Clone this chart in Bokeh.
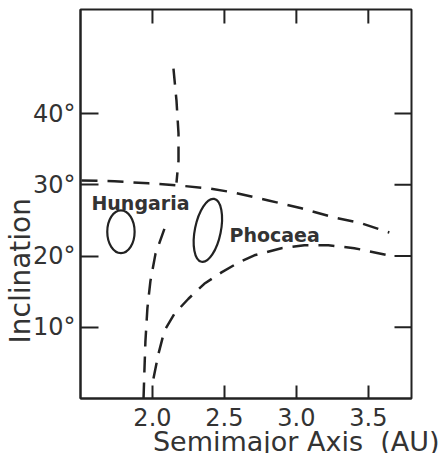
import math
from bokeh.plotting import figure
from bokeh.models import LinearAxis, FixedTicker, Label, Range1d, Title
from bokeh.embed import file_html
from bokeh.resources import INLINE

# ---- data ----
x_ticks = [2.0, 2.5, 3.0, 3.5]
x_tick_labels = ["2.0", "2.5", "3.0", "3.5"]
y_ticks = [10, 20, 30, 40]
y_tick_labels = ["10°", "20°", "30°", "40°"]

upper_a = [1.507, 1.736, 1.972, 2.181, 2.389, 2.569, 2.806, 3.035, 3.264, 3.451, 3.646]
upper_i = [30.6, 30.5, 30.2, 29.9, 29.5, 28.9, 27.8, 26.7, 25.4, 24.6, 23.3]

lower_a = [2.007, 2.042, 2.083, 2.153, 2.25, 2.36, 2.48, 2.60, 2.708, 2.896, 3.056, 3.222, 3.403, 3.639]
lower_i = [2.8, 6.3, 9.5, 11.9, 14.0, 16.1, 17.7, 19.1, 20.1, 21.1, 21.5, 21.5, 21.1, 20.1]

left_a = [1.938, 1.944, 1.951, 1.965, 1.986, 2.021, 2.083]
left_i = [0.0, 3.8, 8.0, 12.7, 16.5, 20.3, 23.8]

vert_a = [2.146, 2.167, 2.181, 2.181, 2.167]
vert_i = [46.3, 41.8, 37.2, 33.4, 30.3]

family_names = ["Hungaria", "Phocaea"]
family_a = [1.781, 2.385]
family_i = [23.4, 23.6]
family_w = [0.19, 0.18]
family_h = [6.0, 9.0]
family_angle = [0.0, -0.2]

X_MIN, X_MAX = 1.5, 3.8
Y_MIN, Y_MAX = 0.0, 54.6

INK = "#222222"
TXT = "#333333"
FONT = "DejaVu Sans"

p = figure(width=446, height=453, output_backend="svg", toolbar_location=None,
           x_range=Range1d(X_MIN, X_MAX), y_range=Range1d(Y_MIN, Y_MAX),
           min_border_left=80, min_border_right=35, min_border_top=9, min_border_bottom=55,
           x_axis_location=None, y_axis_location=None)
p.grid.visible = False
p.outline_line_color = INK
p.outline_line_width = 2
p.outline_line_alpha = 1
p.background_fill_color = "white"
p.border_fill_color = "white"

def style_axis(ax, ticks, labels, tick_in):
    ax.ticker = FixedTicker(ticks=ticks)
    ax.major_tick_in = tick_in
    ax.major_tick_out = 0
    ax.minor_tick_line_color = None
    ax.major_tick_line_width = 2
    ax.major_tick_line_color = INK
    ax.axis_line_width = 2
    ax.axis_line_color = INK
    ax.major_label_overrides = {t: l for t, l in zip(ticks, labels)}
    ax.major_label_text_font = FONT
    ax.major_label_text_font_size = "24px"
    ax.major_label_text_color = TXT

bottom = LinearAxis()
style_axis(bottom, x_ticks, x_tick_labels, 13)
bottom.major_label_standoff = 9
p.add_layout(bottom, "below")

left = LinearAxis()
style_axis(left, y_ticks, y_tick_labels, 18)
left.major_label_standoff = 5
p.add_layout(left, "left")

# inner ticks on the top and right edges
p.ray(x=x_ticks, y=[Y_MAX] * len(x_ticks), length=14, length_units="screen",
      angle=-math.pi / 2, line_color=INK, line_width=2)
p.ray(x=[X_MAX] * len(y_ticks), y=y_ticks, length=17, length_units="screen",
      angle=math.pi, line_color=INK, line_width=2)

dash = "16 10"
for xs, ys in [(upper_a, upper_i), (lower_a, lower_i), (left_a, left_i), (vert_a, vert_i)]:
    p.line(xs, ys, line_color=INK, line_width=2.5, line_dash=dash)

p.ellipse(x=family_a, y=family_i, width=family_w, height=family_h, angle=family_angle,
          fill_color=None, line_color=INK, line_width=2.2)

p.add_layout(Label(x=1.576, y=27.4, text=family_names[0], text_font=FONT,
                   text_font_size="19px", text_font_style="bold", text_color=TXT,
                   text_align="left", text_baseline="alphabetic"))
p.add_layout(Label(x=2.535, y=22.9, text=family_names[1], text_font=FONT,
                   text_font_size="19px", text_font_style="bold", text_color=TXT,
                   text_align="left", text_baseline="alphabetic"))

# axis titles
xt = Title(text="Semimajor Axis\u00a0\u00a0(AU)", align="right", offset=-28, standoff=-10,
           text_font=FONT, text_font_size="27px", text_font_style="normal", text_color=TXT)
p.add_layout(xt, "below")
yt = Title(text="Inclination", align="left", offset=55, standoff=-14,
           text_font=FONT, text_font_size="28px", text_font_style="normal", text_color=TXT)
p.add_layout(yt, "left")

open("out.html", "w").write(file_html(p, INLINE))
